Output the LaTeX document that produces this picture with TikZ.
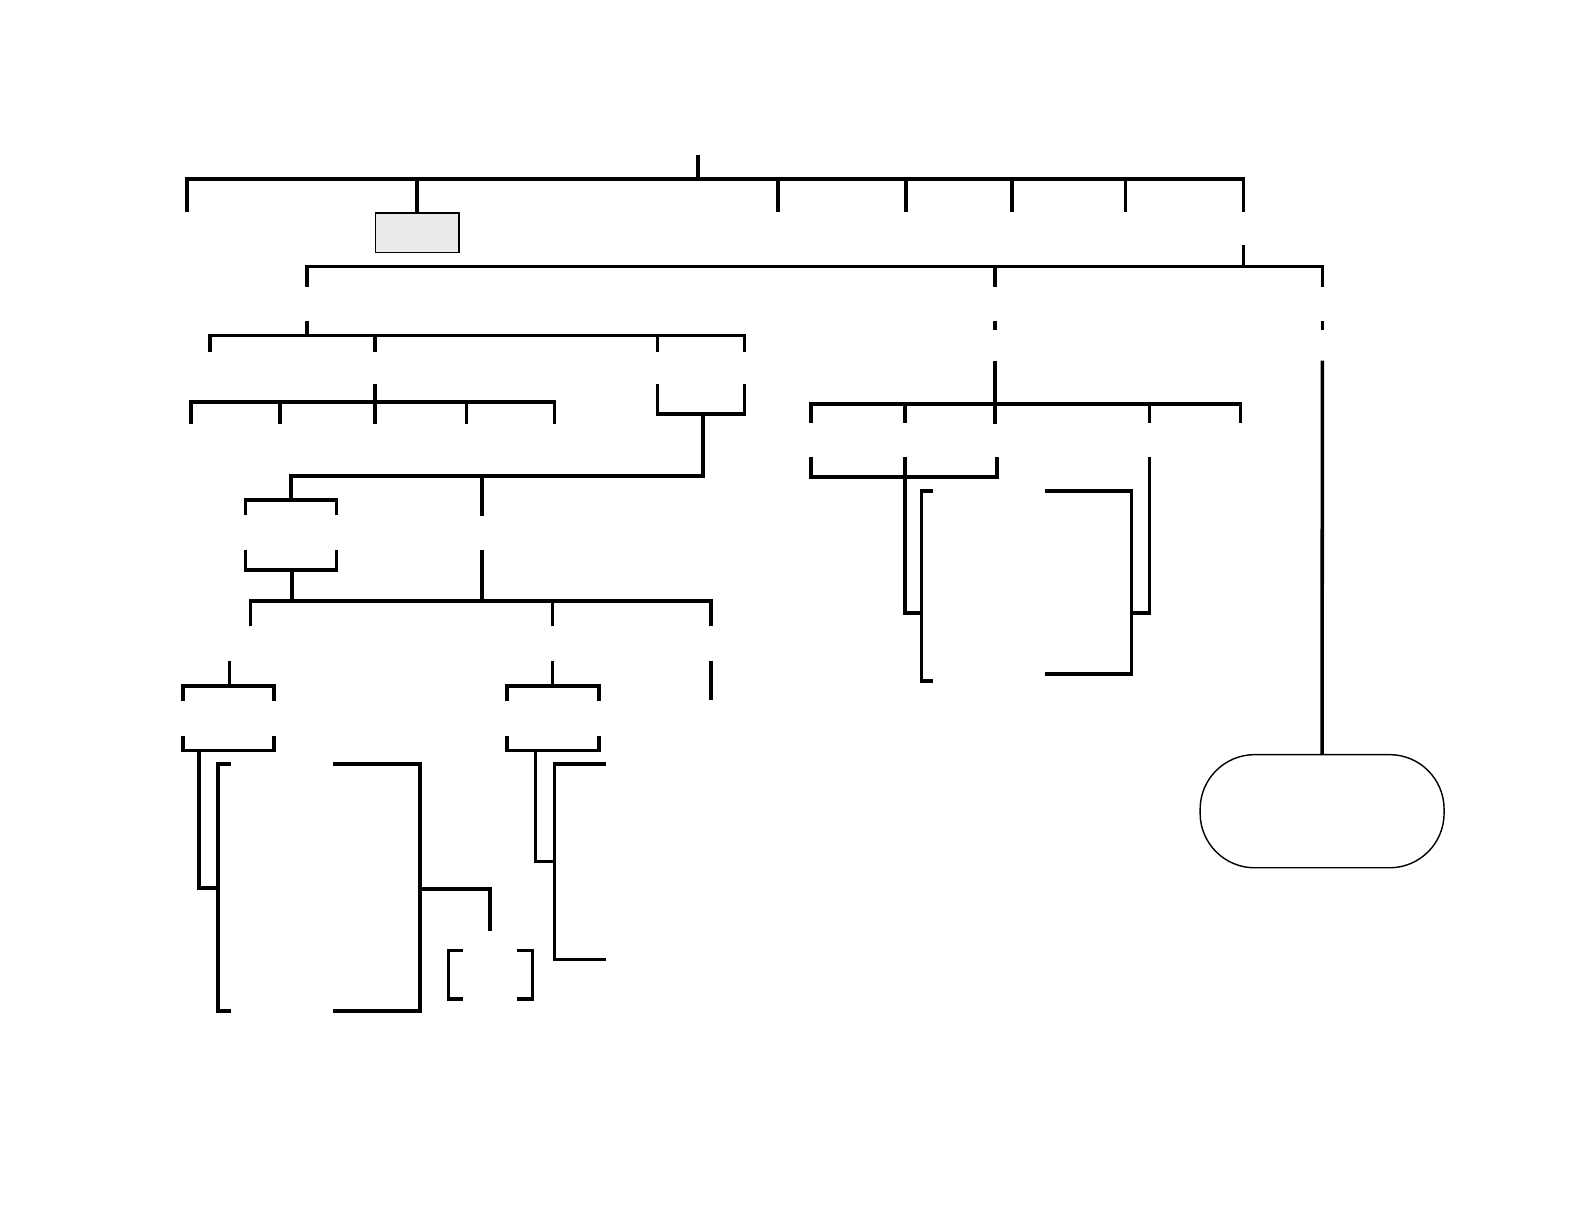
\documentclass[tikz,border=0pt]{standalone}
\begin{document}
\begin{tikzpicture}[x=0.5pt,y=-0.5pt,
  wire/.style={line width=1.75pt},
  graybox/.style={draw,line width=0.7pt,fill={rgb,255:red,235;green,235;blue,235},minimum width=41.5pt,minimum height=19.5pt,inner sep=0pt},
  stadium/.style={draw,line width=0.7pt,rounded corners=27pt,minimum width=120.75pt,minimum height=56pt,inner sep=0pt}]
\useasboundingbox (0,0) rectangle (1568,1212);
\node[graybox] (box) at (413,230.5) {};
\node[stadium] (stad) at (1308.75,803) {};
\begin{scope}[wire]
% top level
\draw (691,153) -- (691,177);
\draw (185,210) -- (185,177) -- (1231,177) -- (1231,210);
\foreach \x in {770,897,1002,1114} \draw (\x,177) -- (\x,210);
\draw (box.north |- 0,177) -- (box.north);
% second level
\draw (1231,243) -- (1231,264);
\draw (304,284) -- (304,264) -- (1309,264) -- (1309,284);
\draw (985,264) -- (985,284);
\draw (985,318) -- (985,327);
\draw (1309,318) -- (1309,327);
\draw (985,357) -- (985,420);
\draw (1309,357) -- (stad.north);
% left branch
\draw (304,318) -- (304,332);
\draw (208,348) -- (208,332) -- (737,332) -- (737,348);
\draw (371,332) -- (371,348);
\draw (651,332) -- (651,348);
\draw (371,380) -- (371,420);
\draw (189,420) -- (189,398) -- (549,398) -- (549,420);
\foreach \x in {277,462} \draw (\x,398) -- (\x,420);
\draw (651,380) -- (651,410) -- (737,410) -- (737,380);
\draw (696,410) -- (696,471) -- (288,471) -- (288,495);
\draw (243,510) -- (243,495) -- (333,495) -- (333,510);
\draw (477,471) -- (477,511);
\draw (243,544) -- (243,564) -- (333,564) -- (333,544);
\draw (289,564) -- (289,595);
\draw (477,544) -- (477,595);
\draw (248,620) -- (248,595) -- (704,595) -- (704,620);
\draw (547,595) -- (547,620);
\draw (227,654) -- (227,679);
\draw (181,694) -- (181,679) -- (271,679) -- (271,694);
\draw (547,654) -- (547,679);
\draw (502,694) -- (502,679) -- (593,679) -- (593,694);
\draw (704,654) -- (704,693);
\draw (181,729) -- (181,743) -- (271,743) -- (271,729);
\draw (502,729) -- (502,743) -- (593,743) -- (593,729);
\draw (197,743) -- (197,879) -- (216,879);
\draw (229,756) -- (216,756) -- (216,1001) -- (229,1001);
\draw (330,756) -- (416,756) -- (416,1001) -- (330,1001);
\draw (416,880) -- (485,880) -- (485,922);
\draw (458,941) -- (444,941) -- (444,989) -- (458,989);
\draw (512,941) -- (527,941) -- (527,989) -- (512,989);
\draw (530,743) -- (530,853) -- (549,853);
\draw (600,756) -- (549,756) -- (549,950) -- (600,950);
% right branch
\draw (803,419) -- (803,400) -- (1228,400) -- (1228,419);
\foreach \x in {896,1138} \draw (\x,400) -- (\x,419);
\draw (803,452) -- (803,472) -- (987,472) -- (987,452);
\draw (896,452) -- (896,607) -- (912,607);
\draw (924,486) -- (912,486) -- (912,674) -- (924,674);
\draw (1034,486) -- (1120,486) -- (1120,667) -- (1034,667);
\draw (1138,452) -- (1138,607) -- (1120,607);
\end{scope}
\end{tikzpicture}
\end{document}
